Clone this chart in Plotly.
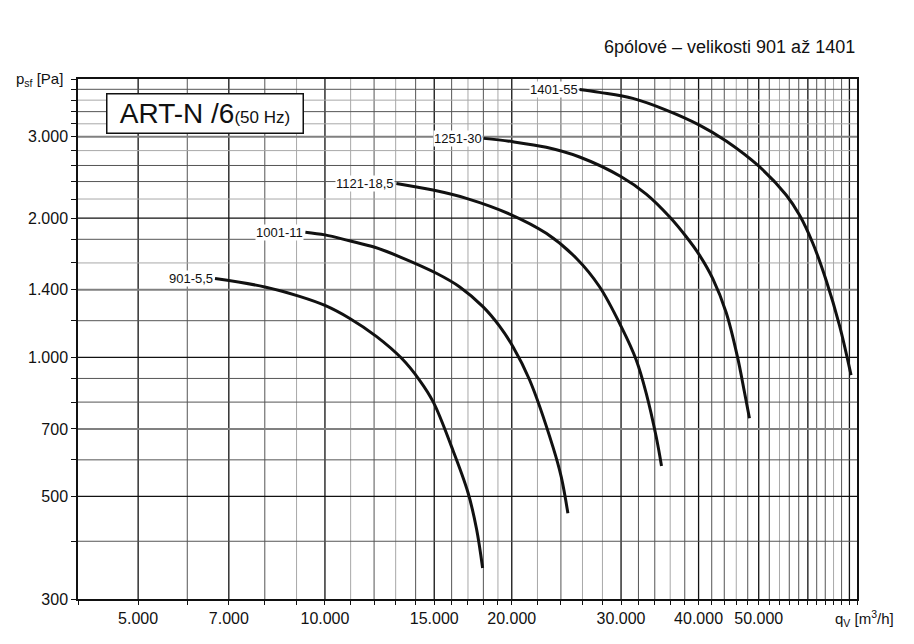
"""
Charakteristika ventilátoru ART-N /6 (50 Hz) - graf p_sf vs q_v v log-log měřítku.
"""

import math
import plotly.graph_objects as go

# --- data ---
q_901 = [6650, 8000, 9100, 10000, 10950, 12100, 13290, 14200, 14950, 16000, 17000, 17550, 17950]
p_901 = [1480, 1420, 1355, 1295, 1215, 1110, 995, 893, 800, 640, 510, 425, 350]

q_1001 = [9300, 10000, 10950, 12030, 13200, 15120, 16490, 17970, 19110, 20090, 21370, 23300, 24030, 24630]
p_1001 = [1865, 1840, 1787, 1730, 1650, 1520, 1420, 1287, 1168, 1054, 893, 640, 551, 460]

q_1121 = [13035, 14930, 16900, 19840, 22730, 25410, 27700, 30020, 31740, 32940, 34180, 34860]
p_1121 = [2378, 2300, 2207, 2041, 1854, 1638, 1421, 1165, 987, 836, 673, 582]

q_1251 = [18020, 20090, 22730, 25720, 30020, 32940, 35910, 38210, 40130, 42160, 44310, 46200, 47420, 48310]
p_1251 = [2976, 2926, 2846, 2712, 2458, 2255, 2014, 1823, 1664, 1480, 1250, 1003, 841, 738]

q_1401 = [25720, 27700, 31340, 35470, 40130, 44310, 50130, 55360, 58160, 61090, 64190, 67450, 70430]
p_1401 = [3798, 3742, 3632, 3427, 3180, 2937, 2584, 2244, 2031, 1767, 1470, 1174, 915]

curve_names = ["901-5,5", "1001-11", "1121-18,5", "1251-30", "1401-55"]
curves_q = [q_901, q_1001, q_1121, q_1251, q_1401]
curves_p = [p_901, p_1001, p_1121, p_1251, p_1401]

# mřížka a popisky os
x_major = [5000, 7000, 10000, 15000, 20000, 30000, 40000, 50000, 60000, 70000]
x_dark = [6000, 8000, 12000, 14000, 16000, 18000, 24000, 32000, 34000, 38000,
          42000, 44000, 48000, 52000, 56000, 58000, 62000, 64000, 68000]
x_light = [9000, 11000, 13000, 17000, 19000, 22000, 26000, 28000, 36000, 46000, 54000, 66000]
x_labels = {5000: "5.000", 7000: "7.000", 10000: "10.000", 15000: "15.000",
            20000: "20.000", 30000: "30.000", 40000: "40.000", 50000: "50.000"}

y_major = [500, 1000, 2000]
y_mid = [700, 1400, 3000]
y_dark = [400, 600, 800, 900, 1200, 1800, 2400, 2600, 3400, 3800]
y_light = [1600, 2200, 2800, 3200, 3600]
y_labels = {300: "300", 500: "500", 700: "700", 1000: "1.000",
            1400: "1.400", 2000: "2.000", 3000: "3.000"}

X_RANGE = (4000, 72000)
Y_RANGE = (300, 4000)
FONT = "Liberation Sans, Arial, sans-serif"


def grid_trace(vals, vertical, color, width):
    xs, ys = [], []
    for v in vals:
        if vertical:
            xs += [v, v, None]
            ys += [Y_RANGE[0], Y_RANGE[1], None]
        else:
            xs += [X_RANGE[0], X_RANGE[1], None]
            ys += [v, v, None]
    return go.Scatter(x=xs, y=ys, mode="lines", line=dict(color=color, width=width),
                      hoverinfo="skip", showlegend=False)


fig = go.Figure()

for vals, col, w in [(x_light, "#a8a8a8", 1), (x_dark, "#555555", 1), (x_major, "#111111", 1.3)]:
    fig.add_trace(grid_trace(vals, True, col, w))
for vals, col, w in [(y_light, "#a8a8a8", 1), (y_dark, "#555555", 1),
                     (y_mid, "#808080", 2), (y_major, "#111111", 1.3)]:
    fig.add_trace(grid_trace(vals, False, col, w))

for name, q, p in zip(curve_names, curves_q, curves_p):
    fig.add_trace(go.Scatter(x=q, y=p, mode="lines", name=name,
                             line=dict(color="#111111", width=3, shape="spline", smoothing=1.0),
                             showlegend=False))
    fig.add_annotation(x=math.log10(q[0]), y=math.log10(p[0]), xref="x", yref="y",
                       text=name, showarrow=False, xanchor="right", yanchor="middle",
                       xshift=-1, bgcolor="white", borderpad=0,
                       font=dict(size=13, color="#111111", family=FONT))

x_ticks = sorted(set(x_major + x_dark + x_light + [X_RANGE[0], X_RANGE[1]]))
y_ticks = sorted(set(y_major + y_mid + y_dark + y_light + [Y_RANGE[0], Y_RANGE[1]]))

fig.update_xaxes(type="log", range=[math.log10(X_RANGE[0]), math.log10(X_RANGE[1])],
                 tickvals=x_ticks, ticktext=[x_labels.get(v, "") for v in x_ticks],
                 ticks="outside", ticklen=4, tickcolor="#111111", showgrid=False,
                 showline=True, linecolor="#111111", linewidth=1.5, mirror=True,
                 zeroline=False, tickfont=dict(size=16, color="#111111", family=FONT))
fig.update_yaxes(type="log", range=[math.log10(Y_RANGE[0]), math.log10(Y_RANGE[1])],
                 tickvals=y_ticks, ticktext=[y_labels.get(v, "") for v in y_ticks],
                 ticks="outside", ticklen=5, tickcolor="#111111", showgrid=False,
                 showline=True, linecolor="#111111", linewidth=1.5, mirror=True,
                 zeroline=False, tickfont=dict(size=16, color="#111111", family=FONT))

# titulek, popisky os a rámeček s typem
fig.add_annotation(x=1.0, y=1.062, xref="paper", yref="paper", text="6pólové – velikosti 901 až 1401",
                   showarrow=False, xanchor="right", yanchor="middle",
                   font=dict(size=18, color="#111111", family=FONT))
fig.add_annotation(x=-0.082, y=1.0, xref="paper", yref="paper",
                   text="p<sub>sf</sub> [Pa]", showarrow=False, xanchor="left", yanchor="middle",
                   font=dict(size=15, color="#111111", family=FONT))
fig.add_annotation(x=0.969, y=-0.037, xref="paper", yref="paper",
                   text="q<sub>V</sub> [m<sup>3</sup>/h]", showarrow=False, xanchor="left",
                   yanchor="middle", font=dict(size=15, color="#111111", family=FONT))
fig.add_annotation(x=0.1624, y=0.9327, xref="paper", yref="paper",
                   text="ART-N /6<span style='font-size:17px'>(50 Hz)</span>",
                   showarrow=False, xanchor="center", yanchor="middle",
                   width=193, height=36, borderpad=1, bgcolor="white",
                   bordercolor="#111111", borderwidth=1.5,
                   font=dict(size=28, color="#111111", family=FONT))

fig.update_layout(
    width=914, height=644,
    margin=dict(l=78, r=57, t=79, b=45),
    plot_bgcolor="white", paper_bgcolor="white",
    font=dict(family=FONT, color="#111111"),
)

# stránka bez okraje, aby graf seděl na (0, 0)
fig.write_html("out.html", config={"displayModeBar": False},
               post_script="document.body.style.margin='0';")
